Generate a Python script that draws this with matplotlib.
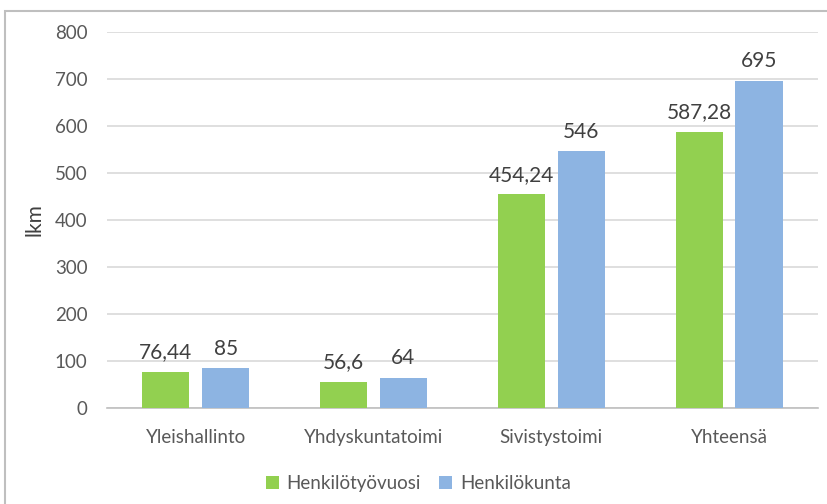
import matplotlib

matplotlib.use("Agg")
import matplotlib.pyplot as plt
import numpy as np
from matplotlib.patches import Rectangle

categories = ["Yleishallinto", "Yhdyskuntatoimi", "Sivistystoimi", "Yhteensä"]
henkilotyovuosi = [76.44, 56.6, 454.24, 587.28]
henkilokunta = [85, 64, 546, 695]
labels_htv = ["76,44", "56,6", "454,24", "587,28"]
labels_hk = ["85", "64", "546", "695"]
yticks = [0, 100, 200, 300, 400, 500, 600, 700, 800]

plt.rcParams["font.family"] = ["Lato", "DejaVu Sans"]
text_col = "#595959"

fig = plt.figure(figsize=(8.28, 5.04), dpi=100)
ax = fig.add_axes([0.129, 0.190, 0.859, 0.747])

x = np.arange(len(categories))
w = 0.265
off = 0.168
b1 = ax.bar(x - off, henkilotyovuosi, w, color="#92D050", label="Henkilötyövuosi", zorder=3)
b2 = ax.bar(x + off, henkilokunta, w, color="#8DB4E2", label="Henkilökunta", zorder=3)

for bars, labs in ((b1, labels_htv), (b2, labels_hk)):
    for r, lab in zip(bars, labs):
        ax.annotate(lab, (r.get_x() + r.get_width() / 2, r.get_height()),
                    xytext=(0, 7), textcoords="offset points", ha="center", va="bottom",
                    fontsize=15, color="#404040")

ax.set_xlim(-0.5, len(categories) - 0.5)
ax.set_ylim(0, 800)
ax.set_yticks(yticks)
ax.set_xticks(x)
ax.set_xticklabels(categories)
ax.tick_params(axis="both", length=0, labelsize=13.5, labelcolor=text_col)
ax.tick_params(axis="x", pad=15)
ax.tick_params(axis="y", pad=14)
ax.grid(axis="y", color="#d9d9d9", linewidth=1.2, zorder=0)
for s in ["top", "right", "left"]:
    ax.spines[s].set_visible(False)
ax.spines["bottom"].set_color("#bfbfbf")
ax.spines["bottom"].set_linewidth(1.2)
ax.set_ylabel("lkm", fontsize=15, color="#404040", labelpad=7)

ax.legend(loc="center", bbox_to_anchor=(0.505, 0.04), bbox_transform=fig.transFigure,
          ncol=2, frameon=False, fontsize=13.5, labelcolor=text_col,
          handlelength=0.7, handleheight=0.7, handletextpad=0.4, columnspacing=1.0)

fig.patches.append(Rectangle((5 / 828, -0.05), 1.1, 1 - 11 / 504 + 0.05,
                             transform=fig.transFigure, fill=False,
                             edgecolor="#bfbfbf", linewidth=1.5))

fig.savefig("out.png", dpi=100)
